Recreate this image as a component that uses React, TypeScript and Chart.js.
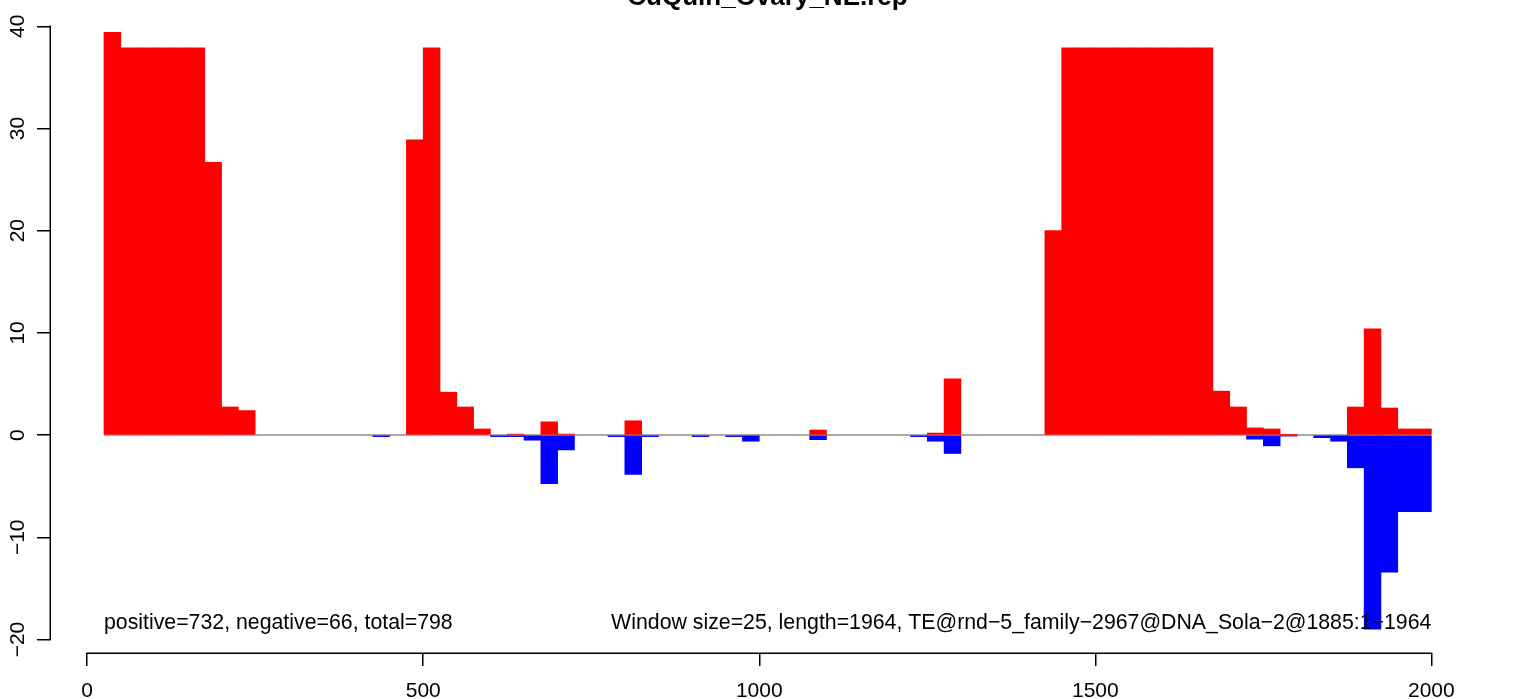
import React, { useEffect, useRef } from 'react';
import { Chart, registerables } from 'chart.js';

Chart.register(...registerables);

const WINDOW = 25;

const windowStart = [
  25, 50, 75, 100, 125, 150, 175, 200, 225, 250,
  275, 300, 325, 350, 375, 400, 425, 450, 475, 500,
  525, 550, 575, 600, 625, 650, 675, 700, 725, 750,
  775, 800, 825, 850, 875, 900, 925, 950, 975, 1000,
  1025, 1050, 1075, 1100, 1125, 1150, 1175, 1200, 1225, 1250,
  1275, 1300, 1325, 1350, 1375, 1400, 1425, 1450, 1475, 1500,
  1525, 1550, 1575, 1600, 1625, 1650, 1675, 1700, 1725, 1750,
  1775, 1800, 1825, 1850, 1875, 1900, 1925, 1950, 1975,
];

const positiveCounts = [
  39.4, 37.9, 37.9, 37.9, 37.9, 37.9, 26.7, 2.75, 2.4, 0,
  0, 0, 0, 0, 0, 0, 0, 0, 28.9, 37.9,
  4.2, 2.75, 0.6, 0, 0.1, 0, 1.3, 0.1, 0, 0,
  0, 1.4, 0, 0, 0, 0, 0, 0, 0, 0,
  0, 0, 0.5, 0, 0, 0, 0, 0, 0, 0.2,
  5.5, 0, 0, 0, 0, 0, 20, 37.9, 37.9, 37.9,
  37.9, 37.9, 37.9, 37.9, 37.9, 37.9, 4.3, 2.75, 0.7, 0.6,
  0.05, 0, 0, 0, 2.75, 10.4, 2.65, 0.6, 0.6,
];

const negativeCounts = [
  0, 0, 0, 0, 0, 0, 0, 0, 0, 0,
  0, 0, 0, 0, 0, 0, -0.15, 0, 0, 0,
  0, 0, 0, -0.15, -0.15, -0.5, -4.75, -1.45, 0, 0,
  -0.15, -3.85, -0.15, 0, 0, -0.15, 0, -0.15, -0.6, 0,
  0, 0, -0.45, 0, 0, 0, 0, 0, -0.15, -0.6,
  -1.8, 0, 0, 0, 0, 0, 0, 0, 0, 0,
  0, 0, 0, 0, 0, 0, 0, 0, -0.4, -1.05,
  -0.1, 0, -0.25, -0.6, -3.2, -19.0, -13.4, -7.5, -7.5,
];

const xTickValues = [0, 500, 1000, 1500, 2000];
const yTickValues = [-20, -10, 0, 10, 20, 30, 40];

const titleText = 'CuQuin_Ovary_NE.rep';
const summaryText = 'positive=732, negative=66, total=798';
const infoText = 'Window size=25, length=1964, TE@rnd\u22125_family\u22122967@DNA_Sola\u22122@1885:1\u22121964';

const FONT = '"Liberation Sans", Arial, Helvetica, sans-serif';

const overlayPlugin = {
  id: 'rOverlay',
  afterDraw(chart: any) {
    const { ctx, chartArea, scales } = chart;
    const xs = scales.x;
    const ys = scales.y;
    ctx.save();
    ctx.strokeStyle = '#000';
    ctx.lineWidth = 1.5;
    ctx.lineCap = 'butt';
    // x axis line
    const xb = Math.round(chartArea.bottom) + 0.25;
    ctx.beginPath();
    ctx.moveTo(xs.getPixelForValue(xTickValues[0]) - 0.75, xb);
    ctx.lineTo(xs.getPixelForValue(xTickValues[xTickValues.length - 1]) + 0.75, xb);
    ctx.stroke();
    // y axis line
    const yl = Math.round(chartArea.left) + 0.25;
    ctx.beginPath();
    ctx.moveTo(yl, ys.getPixelForValue(yTickValues[yTickValues.length - 1]) - 0.75);
    ctx.lineTo(yl, ys.getPixelForValue(yTickValues[0]) + 0.75);
    ctx.stroke();

    // y tick labels, rotated
    ctx.fillStyle = '#000';
    ctx.font = `21px ${FONT}`;
    ctx.textAlign = 'center';
    ctx.textBaseline = 'alphabetic';
    for (const v of yTickValues) {
      const py = ys.getPixelForValue(v);
      ctx.save();
      ctx.translate(24, py);
      ctx.rotate(-Math.PI / 2);
      ctx.fillText(v < 0 ? '\u2212' + Math.abs(v) : String(v), 0, 0);
      ctx.restore();
    }

    // title
    ctx.font = `bold 26px ${FONT}`;
    ctx.textAlign = 'center';
    ctx.textBaseline = 'alphabetic';
    ctx.fillText(titleText, (chartArea.left + chartArea.right) / 2, 5);

    // annotations
    ctx.font = `21.3px ${FONT}`;
    ctx.textBaseline = 'middle';
    const ty = ys.getPixelForValue(-18.4);
    ctx.textAlign = 'left';
    ctx.fillText(summaryText, xs.getPixelForValue(windowStart[0]), ty);
    ctx.textAlign = 'right';
    ctx.fillText(infoText, xs.getPixelForValue(windowStart[windowStart.length - 1] + WINDOW), ty);
    ctx.restore();
  },
};

export default function App() {
  const canvasRef = useRef<HTMLCanvasElement | null>(null);

  useEffect(() => {
    if (!canvasRef.current) return;
    const posData = windowStart.map((s, i) => ({ x: s + WINDOW / 2, y: positiveCounts[i] === 0 ? null : positiveCounts[i] }));
    const negData = windowStart.map((s, i) => ({ x: s + WINDOW / 2, y: negativeCounts[i] === 0 ? null : negativeCounts[i] }));
    const baseLine = [
      { x: windowStart[0], y: 0 },
      { x: windowStart[windowStart.length - 1] + WINDOW, y: 0 },
    ];

    const chart = new Chart(canvasRef.current, {
      type: 'bar',
      data: {
        datasets: [
          {
            type: 'line',
            data: baseLine as any,
            borderColor: '#8c8c8c',
            borderWidth: 1.5,
            pointRadius: 0,
            order: 3,
          } as any,
          {
            type: 'bar',
            data: posData as any,
            backgroundColor: '#ff0000',
            borderWidth: 0,
            categoryPercentage: 1,
            barPercentage: 1,
            grouped: false,
            order: 2,
          } as any,
          {
            type: 'bar',
            data: negData as any,
            backgroundColor: '#0000ff',
            borderWidth: 0,
            categoryPercentage: 1,
            barPercentage: 1,
            grouped: false,
            order: 1,
          } as any,
        ],
      },
      options: {
        responsive: false,
        animation: false,
        events: [],
        layout: { padding: { top: 9, right: 48, left: 0, bottom: 0 } },
        plugins: {
          legend: { display: false },
          tooltip: { enabled: false },
          title: { display: false },
        },
        scales: {
          x: {
            type: 'linear',
            position: 'bottom',
            offset: false,
            min: -55.3,
            max: 2079.8,
            afterFit: (s: any) => { s.height = 46; },
            afterBuildTicks: (s: any) => { s.ticks = xTickValues.map((v) => ({ value: v })); },
            grid: { offset: false, drawOnChartArea: false, drawTicks: true, tickLength: 13, color: '#000', lineWidth: 1.5 },
            border: { display: false },
            ticks: {
              color: '#000',
              font: { family: FONT, size: 21 },
              padding: 13,
              maxRotation: 0,
              minRotation: 0,
              autoSkip: false,
              callback: (v: any) => String(v),
            },
          },
          y: {
            type: 'linear',
            offset: false,
            min: -21.32,
            max: 41.69,
            afterFit: (s: any) => { s.width = 50; },
            afterBuildTicks: (s: any) => { s.ticks = yTickValues.map((v) => ({ value: v })); },
            grid: { offset: false, drawOnChartArea: false, drawTicks: true, tickLength: 13, color: '#000', lineWidth: 1.5 },
            border: { display: false },
            ticks: { display: false },
          },
        },
      } as any,
      plugins: [overlayPlugin],
    });
    return () => chart.destroy();
  }, []);

  return (
    <div style={{ position: 'absolute', left: 0, top: 0, width: 1533, height: 699, background: '#fff' }}>
      <canvas ref={canvasRef} width={1533} height={699} style={{ display: 'block', width: 1533, height: 699 }} />
    </div>
  );
}
